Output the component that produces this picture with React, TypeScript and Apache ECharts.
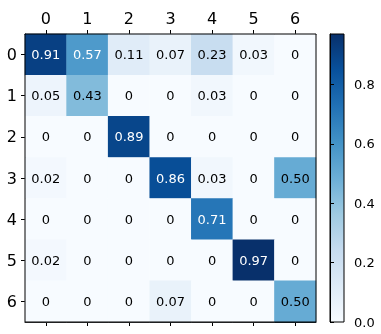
import React, { useEffect, useRef } from "react";
import * as echarts from "echarts";

const xLabels = ["0", "1", "2", "3", "4", "5", "6"];
const yLabels = ["0", "1", "2", "3", "4", "5", "6"];
const matrix: number[][] = [
  [0.91, 0.57, 0.11, 0.07, 0.23, 0.03, 0],
  [0.05, 0.43, 0, 0, 0.03, 0, 0],
  [0, 0, 0.89, 0, 0, 0, 0],
  [0.02, 0, 0, 0.86, 0.03, 0, 0.5],
  [0, 0, 0, 0, 0.71, 0, 0],
  [0.02, 0, 0, 0, 0, 0.97, 0],
  [0, 0, 0, 0.07, 0, 0, 0.5],
];
const colorbarTicks = [0, 0.2, 0.4, 0.6, 0.8];
const vMin = 0;
const vMax = 0.97;
const blues = ["#f7fbff", "#deebf7", "#c6dbef", "#9ecae1", "#6baed6", "#4292c6", "#2171b5", "#08519c", "#08306b"];

export default function App() {
  const ref = useRef<HTMLDivElement>(null);
  useEffect(() => {
    const chart = echarts.init(ref.current!, null, { renderer: "svg" });
    const font = "DejaVu Sans";
    const data: any[] = [];
    matrix.forEach((row, yi) =>
      row.forEach((v, xi) => {
        data.push({
          value: [xi, yi, v],
          label: { color: v > 0.5 ? "#ffffff" : "#000000" },
        });
      })
    );
    const stops = blues
      .map((c, i) => ({ offset: 1 - i / (blues.length - 1), color: c }))
      .sort((a, b) => a.offset - b.offset);
    chart.setOption({
      animation: false,
      textStyle: { fontFamily: font },
      grid: [
        { left: 25, top: 34, width: 291, height: 288, show: true, z: 5, borderColor: "#000", borderWidth: 1, backgroundColor: "transparent" },
        {
          left: 330, top: 34, width: 14, height: 288, show: true, borderColor: "#000", borderWidth: 1,
          backgroundColor: { type: "linear", x: 0, y: 0, x2: 0, y2: 1, colorStops: stops },
        },
      ],
      xAxis: [
        {
          type: "category", data: xLabels, position: "top", gridIndex: 0,
          axisLine: { show: true, lineStyle: { color: "#000" } },
          axisTick: { show: true, alignWithLabel: true, length: 4, lineStyle: { color: "#000" } },
          axisLabel: { fontSize: 16, color: "#000", fontFamily: font, margin: 8 },
          splitLine: { show: false },
        },
        {
          type: "category", data: xLabels, position: "bottom", gridIndex: 0,
          axisLine: { show: true, lineStyle: { color: "#000" } },
          axisTick: { show: true, alignWithLabel: true, length: 4, lineStyle: { color: "#000" } },
          axisLabel: { show: false },
        },
        { type: "value", gridIndex: 1, show: false, min: 0, max: 1 },
      ],
      yAxis: [
        {
          type: "category", data: yLabels, inverse: true, gridIndex: 0,
          axisLine: { show: true, lineStyle: { color: "#000" } },
          axisTick: { show: true, alignWithLabel: true, length: 4, lineStyle: { color: "#000" } },
          axisLabel: { fontSize: 16, color: "#000", fontFamily: font, margin: 8 },
          splitLine: { show: false },
        },
        {
          type: "value", gridIndex: 1, min: vMin, max: vMax, position: "right",
          axisLine: { show: true, lineStyle: { color: "#000" } },
          axisTick: { show: true, length: 4, lineStyle: { color: "#000" }, customValues: colorbarTicks },
          axisLabel: {
            fontSize: 13, color: "#000", fontFamily: font, margin: 10,
            customValues: colorbarTicks, formatter: (v: number) => v.toFixed(1),
          },
          splitLine: { show: false },
        },
      ],
      visualMap: {
        show: false, min: vMin, max: vMax, seriesIndex: 0, dimension: 2,
        inRange: { color: blues },
      },
      series: [
        {
          type: "heatmap", xAxisIndex: 0, yAxisIndex: 0, data,
          label: {
            show: true, fontSize: 13, fontFamily: font,
            formatter: (p: any) => (p.value[2] === 0 ? "0" : p.value[2].toFixed(2)),
          },
          emphasis: { disabled: true },
          itemStyle: { borderWidth: 0 },
        },
      ],
    });
    return () => chart.dispose();
  }, []);
  return <div ref={ref} style={{ position: "fixed", left: 0, top: 0, width: 381, height: 334 }} />;
}
